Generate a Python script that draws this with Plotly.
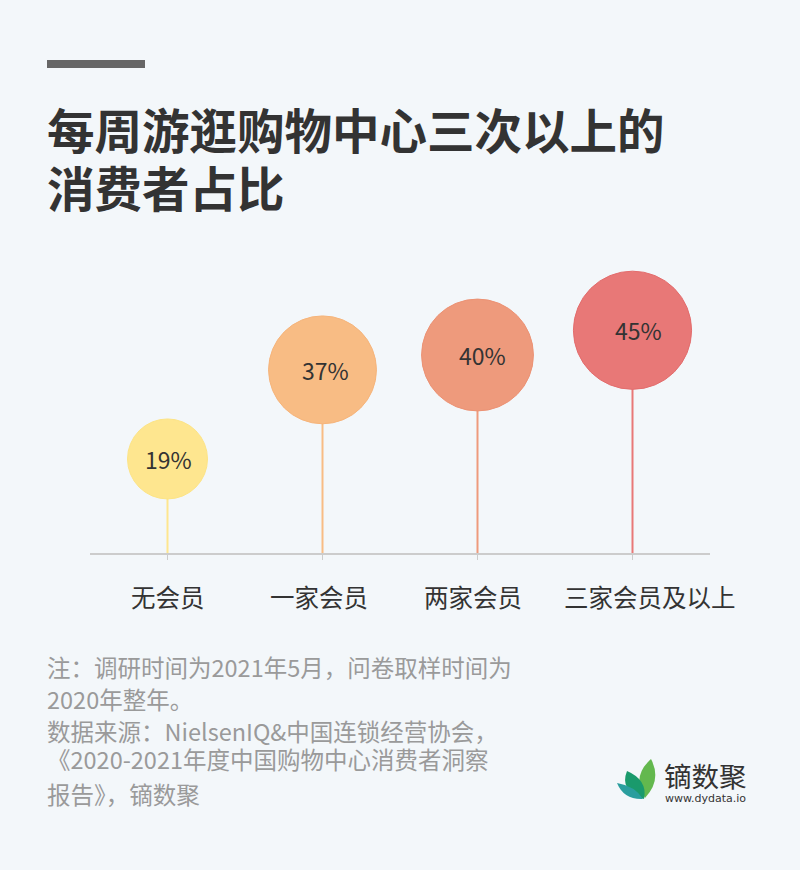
import math
import plotly.graph_objects as go

categories = ["无会员", "一家会员", "两家会员", "三家会员及以上"]
values = [19, 37, 40, 45]
value_labels = ["19%", "37%", "40%", "45%"]

title_lines = ["每周游逛购物中心三次以上的", "消费者占比"]
notes = [
    "注：调研时间为2021年5月，问卷取样时间为",
    "2020年整年。",
    "数据来源：NielsenIQ&中国连锁经营协会，",
    "《2020-2021年度中国购物中心消费者洞察",
    "报告》，镝数聚",
]

fills = ["#fee68f", "#f8bc84", "#ee9a7c", "#e87877"]
edges = ["#fde485", "#f6b47a", "#ec9274", "#e36c6c"]
label_xshift = [0, -4, -5, 17]
value_xshift = [1, 3, 5, 6]
note_y = [667, 699, 731, 759, 794]

W, H = 800, 870
L, R, T, B = 90, 90, 256, 317
PW, PH = W - L - R, H - T - B
YMAX = 60.0
FONT = "Noto Sans CJK SC, Noto Sans, sans-serif"


def px(x):
    return (x - L) / PW


def py(y):
    return (H - B - y) / PH


fig = go.Figure()

# stems
for cat, v, c in zip(categories, values, fills):
    fig.add_trace(go.Scatter(
        x=[cat, cat], y=[0, v], mode="lines",
        line=dict(color=c, width=2), hoverinfo="skip", cliponaxis=False,
    ))

# bubbles (area grows linearly with value)
sizes = [math.sqrt(291 * v + 871) for v in values]
fig.add_trace(go.Scatter(
    x=categories, y=values, mode="markers",
    marker=dict(size=sizes, sizemode="diameter", color=fills,
                line=dict(color=edges, width=1), opacity=1),
    hoverinfo="skip", cliponaxis=False,
))

annotations = []
shapes = []

# value labels inside bubbles
for cat, v, t, dx in zip(categories, values, value_labels, value_xshift):
    annotations.append(dict(
        text=t, x=cat, y=v, xref="x", yref="y", xshift=dx,
        xanchor="center", yanchor="middle", showarrow=False,
        font=dict(family=FONT, size=23, color="#333333"),
    ))

# category labels
for cat, dx in zip(categories, label_xshift):
    annotations.append(dict(
        text=cat, x=cat, y=py(596), xref="x", yref="paper", xshift=dx,
        xanchor="center", yanchor="middle", showarrow=False,
        font=dict(family=FONT, size=24.5, color="#333333"),
    ))

# top bar
shapes.append(dict(type="rect", xref="paper", yref="paper",
                   x0=px(47), x1=px(145), y0=py(68), y1=py(60),
                   fillcolor="#666666", line=dict(width=0), layer="above"))

# title
for i, t in enumerate(title_lines):
    annotations.append(dict(
        text="<b>" + t + "</b>", xref="paper", yref="paper",
        x=px(45), y=py(128 + 58 * i), xanchor="left", yanchor="middle",
        showarrow=False, font=dict(family=FONT, size=47.5, color="#333333"),
    ))

# notes
for t, yy in zip(notes, note_y):
    annotations.append(dict(
        text=t, xref="paper", yref="paper",
        x=px(45), y=py(yy), xanchor="left", yanchor="middle",
        showarrow=False, font=dict(family=FONT, size=23.5, color="#9a9a9a"),
    ))

# logo text
annotations.append(dict(
    text="镝数聚", xref="paper", yref="paper", x=px(662), y=py(775),
    xanchor="left", yanchor="middle", showarrow=False,
    font=dict(family=FONT, size=27.5, color="#333333"),
))
annotations.append(dict(
    text="www.dydata.io", xref="paper", yref="paper", x=px(663), y=py(798),
    xanchor="left", yanchor="middle", showarrow=False,
    font=dict(family="DejaVu Sans, sans-serif", size=11, color="#333333"),
))


def leaf(points, color):
    parts = []
    for cmd, *coords in points:
        vals = []
        for j in range(0, len(coords), 2):
            vals.append(f"{px(coords[j]):.5f},{py(coords[j+1]):.5f}")
        parts.append(cmd + " " + " ".join(vals))
    path = " ".join(parts) + " Z"
    return dict(type="path", xref="paper", yref="paper", path=path,
                fillcolor=color, line=dict(width=0), layer="above")


# light green leaf
shapes.append(leaf([("M", 645, 798), ("Q", 631, 777, 651, 759),
                    ("Q", 662, 780, 645, 798)], "#63b84e"))
# dark green leaf
shapes.append(leaf([("M", 644, 799), ("Q", 619, 791, 627, 771),
                    ("Q", 648, 780, 644, 799)], "#1a9a6c"))
# teal leaf
shapes.append(leaf([("M", 643, 799), ("Q", 624, 800, 617, 783),
                    ("Q", 635, 786, 643, 799)], "#2a9e9e"))

fig.update_layout(
    width=W, height=H,
    margin=dict(l=L, r=R, t=T, b=B, pad=0),
    paper_bgcolor="#f3f7fa", plot_bgcolor="#f3f7fa",
    showlegend=False,
    font=dict(family=FONT, color="#333333"),
    xaxis=dict(
        type="category", range=[-0.5, 3.5], showgrid=False, zeroline=False,
        showline=True, linecolor="#cccccc", linewidth=2,
        ticks="outside", ticklen=5, tickcolor="#cccccc", tickwidth=1,
        showticklabels=False, fixedrange=True,
    ),
    yaxis=dict(range=[0, YMAX], visible=False, fixedrange=True),
    annotations=annotations, shapes=shapes,
)

fig.write_html(
    "out.html",
    config={"displayModeBar": False, "staticPlot": True},
    post_script="document.body.style.margin='0';document.body.style.background='#f3f7fa';",
)
